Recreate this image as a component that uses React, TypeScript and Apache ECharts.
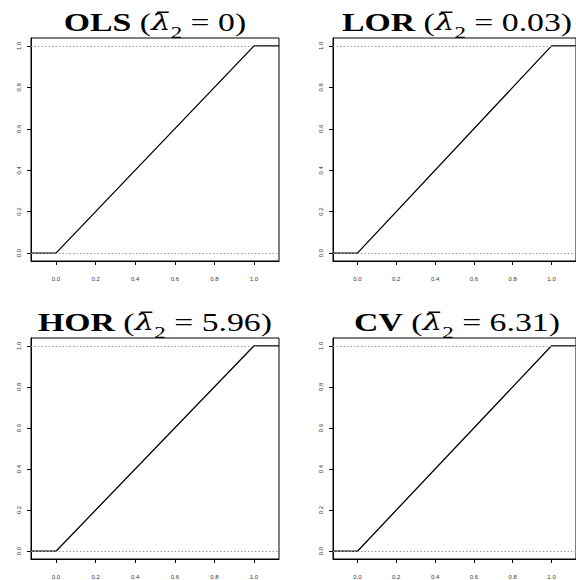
import React, { useEffect, useRef } from "react";
import * as echarts from "echarts";

// ---- data ----
const panelNames = ["OLS", "LOR", "HOR", "CV"];
const lambdaValues = ["0", "0.03", "5.96", "6.31"];
const xValues = [-0.126, 0, 1, 1.126];
const olsY = [0, 0, 1, 1];
const lorY = [0, 0, 1, 1];
const horY = [0, 0, 1, 1];
const cvY = [0, 0, 1, 1];
const xTicks = [0, 0.2, 0.4, 0.6, 0.8, 1.0];
const yTicks = [0, 0.2, 0.4, 0.6, 0.8, 1.0];
const refLines = [0, 1];

const seriesY = [olsY, lorY, horY, cvY];

const X_MIN = -0.126;
const X_MAX = 1.126;
const Y_MIN = -0.038;
const Y_MAX = 1.038;

const panelPos = [
  { left: 31, top: 38 },
  { left: 333, top: 38 },
  { left: 31, top: 338 },
  { left: 333, top: 338 },
];
const PW = 248;
const PH = 223;

const MAIN_FONT = 25;
const SUB_FONT = 17;
const LAMBDA_FONT = 23;
const SCALE_X = 1.35;
const FONT_SERIF = '"Liberation Serif"';
const FONT_LAMBDA = '"DejaVu Serif"';
const TICK_FONT = "Liberation Sans";

export default function App() {
  const ref = useRef<HTMLDivElement>(null);

  useEffect(() => {
    document.body.style.margin = "0";
    const chart = echarts.init(ref.current!, null, { renderer: "svg" });

    const ctx = document.createElement("canvas").getContext("2d")!;
    const mw = (t: string, font: string) => {
      ctx.font = font;
      return ctx.measureText(t).width;
    };

    const grid = panelPos.map((p) => ({
      left: p.left,
      top: p.top,
      width: PW,
      height: PH,
      show: true,
      borderColor: "#000",
      borderWidth: 1,
      backgroundColor: "transparent",
      containLabel: false,
    }));

    const xAxis = panelPos.map((_, i) => ({
      type: "value",
      gridIndex: i,
      min: X_MIN,
      max: X_MAX,
      axisLine: { show: true, onZero: false, lineStyle: { color: "#000", width: 1 } },
      axisTick: {
        show: true,
        customValues: xTicks,
        length: 4,
        lineStyle: { color: "#000", width: 1 },
      },
      axisLabel: {
        customValues: xTicks,
        formatter: (v: number) => v.toFixed(1),
        margin: 15,
        fontFamily: TICK_FONT,
        fontSize: 6,
        color: "#333",
      },
      splitLine: { show: false },
    }));

    const yAxis = panelPos.map((_, i) => ({
      type: "value",
      gridIndex: i,
      min: Y_MIN,
      max: Y_MAX,
      axisLine: { show: true, onZero: false, lineStyle: { color: "#000", width: 1 } },
      axisTick: {
        show: true,
        customValues: yTicks,
        length: 4,
        lineStyle: { color: "#000", width: 1 },
      },
      axisLabel: {
        customValues: yTicks,
        formatter: (v: number) => v.toFixed(1),
        rotate: 90,
        margin: 9,
        fontFamily: TICK_FONT,
        fontSize: 6,
        color: "#333",
      },
      splitLine: { show: false },
    }));

    const series = seriesY.map((ys, i) => ({
      type: "line",
      xAxisIndex: i,
      yAxisIndex: i,
      data: xValues.map((x, k) => [x, ys[k]]),
      symbol: "none",
      lineStyle: { color: "#000", width: 1.3 },
      markLine: {
        silent: true,
        symbol: ["none", "none"],
        label: { show: false },
        lineStyle: { color: "#9a9a9a", type: [1.5, 2], width: 1 },
        data: refLines.map((v) => ({ yAxis: v })),
      },
      z: 3,
    }));

    const fB = `bold ${MAIN_FONT}px ${FONT_SERIF}`;
    const fR = `${MAIN_FONT}px ${FONT_SERIF}`;
    const fL = `italic ${LAMBDA_FONT}px ${FONT_LAMBDA}`;
    const fS = `${SUB_FONT}px ${FONT_SERIF}`;

    const graphic: any[] = [];
    panelNames.forEach((name, i) => {
      const cx = panelPos[i].left + PW / 2;
      const ty = panelPos[i].top - 28;
      const tail = ` = ${lambdaValues[i]})`;
      const wB = mw(name, fB);
      const wO = mw(" (", fR);
      const wL = mw("λ", fL);
      const wS = mw("2", fS);
      const wT = mw(tail, fR);
      const total = wB + wO + wL + wS + wT;
      const start = cx - (total * SCALE_X) / 2;
      const lx = start + (wB + wO) * SCALE_X;
      graphic.push({
        type: "text",
        x: cx,
        y: ty,
        scaleX: SCALE_X,
        style: {
          text: `{b|${name}}{r| (}{l|λ}{s|2}{r|${tail}}`,
          align: "center",
          verticalAlign: "top",
          fill: "#000",
          rich: {
            b: {
              fontFamily: FONT_SERIF,
              fontWeight: "bold",
              fontSize: MAIN_FONT,
              verticalAlign: "top",
              fill: "#000",
            },
            r: {
              fontFamily: FONT_SERIF,
              fontSize: MAIN_FONT,
              verticalAlign: "top",
              fill: "#000",
            },
            l: {
              fontFamily: FONT_LAMBDA,
              fontStyle: "italic",
              fontSize: LAMBDA_FONT,
              verticalAlign: "top",
              fill: "#000",
            },
            s: {
              fontFamily: FONT_SERIF,
              fontSize: SUB_FONT,
              verticalAlign: "bottom",
              lineHeight: 31,
              fill: "#000",
            },
          },
        },
      });
      // macron bar over lambda
      graphic.push({
        type: "rect",
        shape: {
          x: lx + wL * SCALE_X * 0.3,
          y: ty + 1.5,
          width: wL * SCALE_X * 0.6,
          height: 1.5,
        },
        style: { fill: "#000" },
      });
    });

    chart.setOption({
      animation: false,
      backgroundColor: "#fff",
      grid,
      xAxis,
      yAxis,
      series,
      graphic,
    });

    return () => chart.dispose();
  }, []);

  return (
    <div
      ref={ref}
      style={{ width: 576, height: 580, overflow: "hidden", background: "#fff" }}
    />
  );
}
